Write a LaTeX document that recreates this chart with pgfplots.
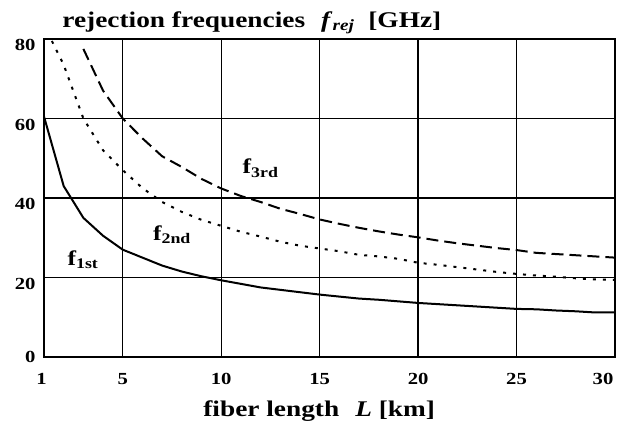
\documentclass[border=0pt]{standalone}
\usepackage{pgfplots}
\pgfplotsset{compat=1.18}
\usepackage{pgfplotstable}
\usepackage{fontspec}
\setmainfont{Liberation Serif}[FakeStretch=1.22]

\pgfplotstableread{
L f
1 60.5
2 43
3 35
4 30.5
5 27
6 25
7 23
8 21.5
9 20.3
10 19.3
11 18.4
12 17.5
13 16.9
14 16.3
15 15.7
16 15.2
17 14.7
18 14.4
19 14.0
20 13.6
21 13.3
22 13.0
23 12.7
24 12.4
25 12.1
26 12.0
27 11.7
28 11.5
29 11.2
30 11.2
}\firsttab

\pgfplotstableread{
L f
1.4 79.5
2 73.5
3 60
4 52
5 47
6 42.5
7 39
8 36.5
9 34.5
10 33
11 31.5
12 30.3
13 29
14 28
15 27.3
16 26.6
17 25.7
18 25.3
19 24.7
20 23.7
21 23.2
22 22.6
23 22.0
24 21.4
25 20.9
26 20.5
27 20.2
28 19.8
29 19.5
30 19.4
}\secondtab

\pgfplotstableread{
L f
3 77.5
4 67
5 60
6 55
7 50.5
8 47.8
9 44.8
10 42.4
11 40.5
12 39
13 37.3
14 36
15 34.6
16 33.5
17 32.5
18 31.6
19 30.8
20 30.1
21 29.3
22 28.6
23 28.0
24 27.4
25 26.9
26 26.2
27 25.9
28 25.6
29 25.3
30 25.0
}\thirdtab

\begin{document}
\begin{tikzpicture}
\begin{axis}[
  scale only axis,
  width=571bp, height=318bp,
  xmin=1, xmax=30, ymin=0, ymax=80,
  xtick={1,5,10,15,20,25,30},
  xticklabels={1\kern5bp,5,10,15,20,25,30\kern24bp},
  ytick={0,20,40,60,80},
  yticklabels={\raisebox{13bp}{0},20,40,60,80},
  major tick length=0pt,
  grid=major,
  grid style={black, line width=1.4bp},
  axis line style={black, line width=1.8bp},
  tick label style={font=\fontsize{17}{20}\selectfont\bfseries},
  xticklabel style={yshift=-13bp},
  yticklabel style={xshift=-5bp, yshift=-6bp},
  clip=false,
]
\addplot[black, line width=2bp] table[x=L, y=f] {\firsttab};
\addplot[black, line width=2bp, dash pattern=on 3bp off 7bp] table[x=L, y=f] {\secondtab};
\addplot[black, line width=2bp, dash pattern=on 12bp off 6bp] table[x=L, y=f] {\thirdtab};

\node at (axis cs:2.98,24.4) {\fontsize{21}{24}\selectfont\bfseries f\textsubscript{1st}};
\node at (axis cs:7.5,30.7) {\fontsize{21}{24}\selectfont\bfseries f\textsubscript{2nd}};
\node at (axis cs:12,47.5) {\fontsize{21}{24}\selectfont\bfseries f\textsubscript{3rd}};

\node[anchor=base] at (rel axis cs:0.364,1) [yshift=12bp] {\fontsize{22.5}{26}\selectfont\bfseries rejection frequencies\hspace{16bp}\textit{f}\textsubscript{\textit{rej}}\hspace{14bp}[GHz]};
\node[anchor=base] at (rel axis cs:0.482,0) [yshift=-59bp] {\fontsize{22.5}{26}\selectfont\bfseries fiber length\hspace{16bp}\textit{L} [km]};

\draw[line width=2.6bp] (rel axis cs:0,1) -- (rel axis cs:0,0) -- (rel axis cs:1,0);
\end{axis}
\pgfresetboundingbox
\path[use as bounding box] (-44bp,-64bp) rectangle (573bp,357bp);
\end{tikzpicture}
\end{document}
